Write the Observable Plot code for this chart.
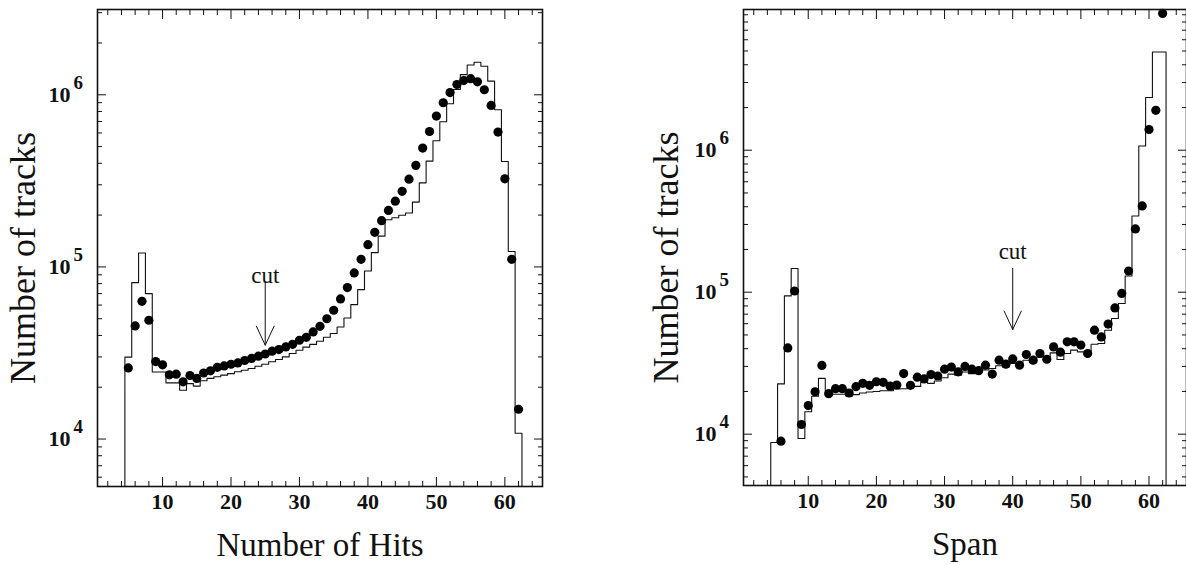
<!DOCTYPE html>
<html>
<head>
<meta charset="utf-8">
<script src="https://cdn.jsdelivr.net/npm/d3@7"></script>
<script src="https://cdn.jsdelivr.net/npm/@observablehq/plot@0.6"></script>
<style>
  html, body { margin: 0; padding: 0; background: #fff; }
  #wrap { position: relative; width: 1186px; height: 565px; overflow: hidden; background: #fff; }
  #left, #right { position: absolute; top: 0; }
  #left { left: 0; }
  #right { left: 593px; }
</style>
</head>
<body>
<div id="wrap"><div id="left"></div><div id="right"></div></div>
<script>
// ---------- data ----------
// Left panel: Number of Hits (bins are integers, first bin = 5)
const hitsFirstBin = 5;
const hitsData = [25900, 45400, 63100, 49000, 28200, 27000, 23600, 23800, 21500, 23400,
  22500, 24200, 24900, 26100, 26600, 27200, 27700, 28600, 29400, 30300,
  31200, 32400, 33100, 34300, 35500, 37500, 39000, 41900, 45200, 50000,
  56000, 65200, 75900, 92300, 110700, 134600, 158800, 185700, 212800, 241000,
  275000, 323600, 389000, 490000, 612000, 752000, 899000, 1030000, 1148000, 1210000,
  1240000, 1190000, 1070000, 867000, 607000, 325000, 110700, 14900];
const hitsMC = [29900, 81100, 120500, 70000, 24500, 24500, 21200, 21200, 19200, 21000,
  20300, 21800, 22500, 23000, 23500, 24000, 24600, 25100, 25700, 26500,
  27200, 28100, 29000, 30000, 31400, 32800, 34200, 35500, 37000, 39000,
  41000, 44800, 50500, 60400, 73800, 94600, 121000, 151000, 188000, 193000,
  199500, 205800, 238000, 308000, 412000, 541000, 697000, 887000, 1074000, 1310000,
  1490000, 1545000, 1466000, 1200000, 818000, 410000, 123000, 10800];

// Right panel: Span
const spanDataFirstBin = 6;
const spanData = [8930, 40500, 102000, 11700, 15900, 19900, 30500, 19300, 20900, 20900,
  19500, 21600, 22800, 22100, 23400, 23200, 21800, 22200, 26700, 22100,
  25200, 24500, 26300, 25700, 28700, 29700, 27500, 30000, 28700, 28000,
  30600, 26500, 33200, 31100, 33900, 30600, 36400, 33200, 37000, 33700,
  41200, 37800, 44700, 44700, 42400, 37000, 54000, 48400, 59600, 77500,
  98000, 141000, 279000, 405000, 1400000, 1910000, 9200000];
const spanMCFirstBin = 5;
const spanMC = [8740, 22600, 94200, 147000, 9330, 14400, 18500, 24700, 19500, 19100,
  19100, 18600, 19000, 19500, 19800, 20000, 20200, 20200, 20800, 20900,
  21200, 21700, 23300, 22800, 23700, 25000, 26500, 26000, 27400, 26700,
  27500, 28300, 29000, 30300, 29800, 31500, 30300, 33200, 31900, 35000,
  35000, 37400, 33600, 37000, 39100, 38000, 36500, 43000, 43500, 54000,
  65300, 83200, 130000, 344000, 1070000, 2350000, 4920000, 4920000];

// Axis ticks and labels
const xMajorTicks = [10, 20, 30, 40, 50, 60];
const xMinorTicks = [2, 4, 6, 8, 12, 14, 16, 18, 22, 24, 26, 28, 32, 34, 36, 38, 42, 44, 46, 48, 52, 54, 56, 58, 62, 64];
const yMajorTicks = [1e4, 1e5, 1e6];
const yMinorTicksLeft = [6e3, 7e3, 8e3, 9e3, 2e4, 3e4, 4e4, 5e4, 6e4, 7e4, 8e4, 9e4,
  2e5, 3e5, 4e5, 5e5, 6e5, 7e5, 8e5, 9e5, 2e6, 3e6];
const yMinorTicksRight = [5e3, 6e3, 7e3, 8e3, 9e3, 2e4, 3e4, 4e4, 5e4, 6e4, 7e4, 8e4, 9e4,
  2e5, 3e5, 4e5, 5e5, 6e5, 7e5, 8e5, 9e5, 2e6, 3e6, 4e6, 5e6, 6e6, 7e6, 8e6, 9e6];

const xDomain = [0.5, 65.5];
const yDomainLeft = [5300, 3.13e6];
const yDomainRight = [4350, 9.8e6];

// "cut" annotations
const hitsCut = {x: 25, textY: 89300, arrowTop: 81500, arrowBottom: 35100};
const spanCut = {x: 40, textY: 192000, arrowTop: 147000, arrowBottom: 54600};

const titles = {left: {x: "Number of Hits", y: "Number of tracks"}, right: {x: "Span", y: "Number of tracks"}};

// ---------- helpers ----------
function toPoints(first, vals) {
  return vals.map((v, i) => ({x: first + i, y: v}));
}
function histOutline(first, vals, ymin) {
  const pts = [{x: first - 0.5, y: ymin}];
  vals.forEach((v, i) => pts.push({x: first + i - 0.5, y: v}));
  pts.push({x: first + vals.length - 0.5, y: vals[vals.length - 1]});
  pts.push({x: first + vals.length - 0.5, y: ymin});
  return pts;
}

const FONT = "'Liberation Serif', 'Times New Roman', Times, serif";

function panel({points, hist, yDomain, yMinor, cut, xTitle, yTitle, margins, yTitleDx}) {
  const {marginLeft, marginRight, marginTop, marginBottom} = margins;
  const ink = "#111";
  return Plot.plot({
    width: 593,
    height: 565,
    marginLeft, marginRight, marginTop, marginBottom,
    style: {fontFamily: FONT, background: "white", overflow: "visible", color: ink},
    x: {domain: xDomain, axis: null},
    y: {type: "log", domain: yDomain, axis: null},
    marks: [
      // inward ticks on all four sides
      Plot.axisX({anchor: "bottom", ticks: xMajorTicks, tickSize: -9, fill: "none", label: null, stroke: ink}),
      Plot.axisX({anchor: "bottom", ticks: xMinorTicks, tickSize: -5, fill: "none", label: null, stroke: ink}),
      Plot.axisX({anchor: "top", ticks: xMajorTicks, tickSize: -9, fill: "none", label: null, stroke: ink}),
      Plot.axisX({anchor: "top", ticks: xMinorTicks, tickSize: -5, fill: "none", label: null, stroke: ink}),
      Plot.axisY({anchor: "left", ticks: yMajorTicks, tickSize: -9, fill: "none", label: null, stroke: ink}),
      Plot.axisY({anchor: "left", ticks: yMinor, tickSize: -5, fill: "none", label: null, stroke: ink}),
      Plot.axisY({anchor: "right", ticks: yMajorTicks, tickSize: -9, fill: "none", label: null, stroke: ink}),
      Plot.axisY({anchor: "right", ticks: yMinor, tickSize: -5, fill: "none", label: null, stroke: ink}),
      // tick labels
      Plot.text(xMajorTicks, {x: d => d, frameAnchor: "bottom", dy: 22, lineAnchor: "bottom",
        text: d => String(d), fontWeight: "bold", fontSize: 22, fill: ink}),
      Plot.text(yMajorTicks, {y: d => d, frameAnchor: "left", dx: -27, textAnchor: "end", lineAnchor: "middle",
        text: () => "10", fontWeight: "bold", fontSize: 22, fill: ink}),
      Plot.text(yMajorTicks, {y: d => d, frameAnchor: "left", dx: -24, dy: -12, textAnchor: "start", lineAnchor: "middle",
        text: d => String(Math.round(Math.log10(d))), fontWeight: "bold", fontSize: 19, fill: ink}),
      // histogram (MC)
      Plot.line(hist, {x: "x", y: "y", curve: "step-after", stroke: ink, strokeWidth: 1.1, clip: true}),
      // data points
      Plot.dot(points, {x: "x", y: "y", r: 4.6, fill: "black", stroke: "none"}),
      // cut annotation
      Plot.text([cut], {x: "x", y: "textY", text: () => "cut", fontSize: 23, fill: ink, lineAnchor: "middle"}),
      Plot.arrow([cut], {x: "x", y1: "arrowTop", y2: "arrowBottom", stroke: ink, strokeWidth: 1, headLength: 40, headAngle: 50}),
      // frame
      Plot.frame({stroke: ink, strokeWidth: 1.6}),
      // axis titles
      Plot.text([xTitle], {frameAnchor: "bottom", dy: 69, lineAnchor: "bottom", textAnchor: "middle", text: d => d, fontSize: 33, fill: ink}),
      Plot.text([yTitle], {frameAnchor: "left", dx: yTitleDx, dy: 10, rotate: -90, lineAnchor: "bottom", textAnchor: "middle", text: d => d, fontSize: 36, fill: ink})
    ]
  });
}

const left = panel({
  points: toPoints(hitsFirstBin, hitsData),
  hist: histOutline(hitsFirstBin, hitsMC, yDomainLeft[0]),
  yDomain: yDomainLeft,
  yMinor: yMinorTicksLeft,
  cut: hitsCut,
  xTitle: titles.left.x,
  yTitle: titles.left.y,
  margins: {marginLeft: 97, marginRight: 51, marginTop: 9, marginBottom: 79},
  yTitleDx: -63
});
const right = panel({
  points: toPoints(spanDataFirstBin, spanData),
  hist: histOutline(spanMCFirstBin, spanMC, yDomainRight[0]),
  yDomain: yDomainRight,
  yMinor: yMinorTicksRight,
  cut: spanCut,
  xTitle: titles.right.x,
  yTitle: titles.right.y,
  margins: {marginLeft: 150, marginRight: 0, marginTop: 9, marginBottom: 80},
  yTitleDx: -66
});
document.getElementById("left").appendChild(left);
document.getElementById("right").appendChild(right);
</script>
</body>
</html>
